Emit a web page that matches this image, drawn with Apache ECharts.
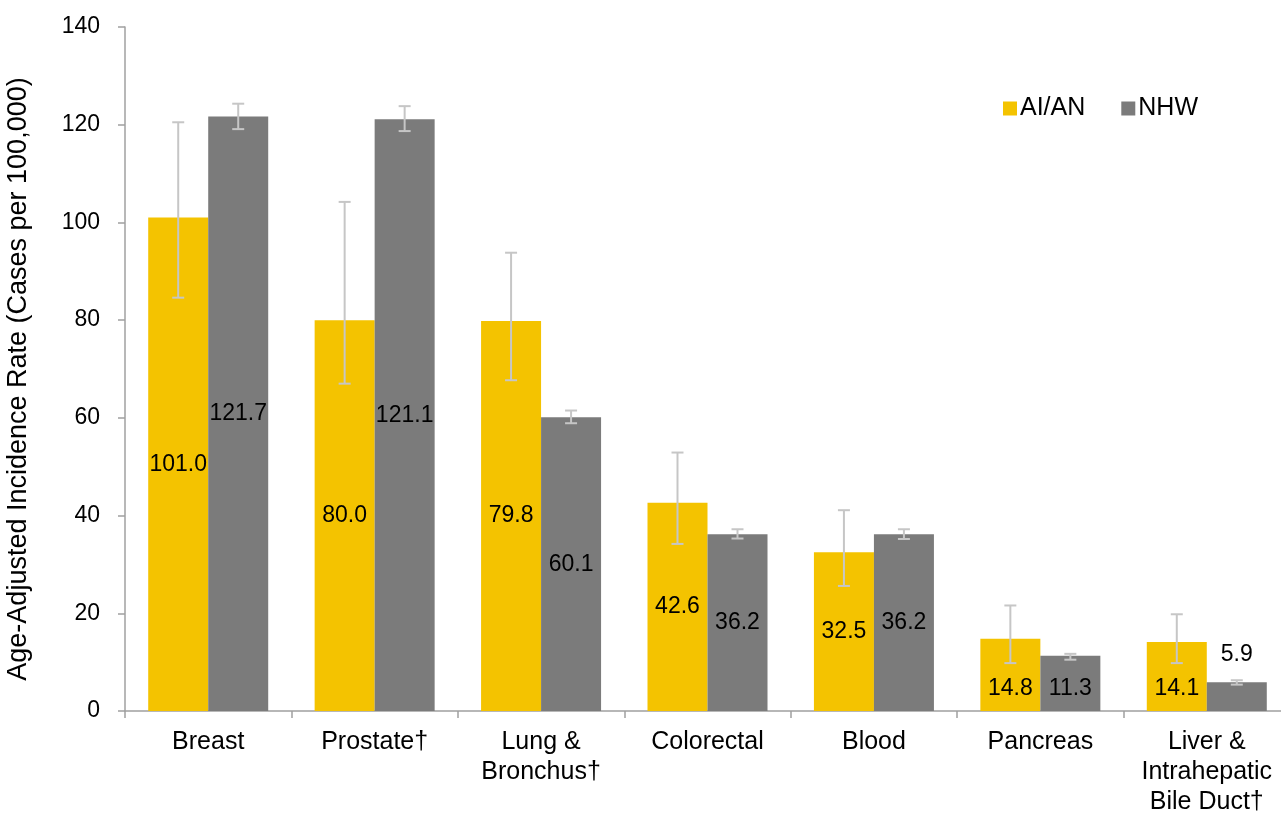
<!DOCTYPE html>
<html>
<head>
<meta charset="utf-8">
<script src="https://cdn.jsdelivr.net/npm/echarts@6/dist/echarts.min.js"></script>
<style>
html,body{margin:0;padding:0;background:#fff;}
#chart{width:1281px;height:817px;}
</style>
</head>
<body>
<div id="chart"></div>
<script>
// ---- data ----
const categories = ['Breast', 'Prostate†', 'Lung &\nBronchus†', 'Colorectal', 'Blood', 'Pancreas', 'Liver &\nIntrahepatic\nBile Duct†'];
const seriesNames = ['AI/AN', 'NHW'];
const aianValues = [101.0, 80.0, 79.8, 42.6, 32.5, 14.8, 14.1];
const nhwValues = [121.7, 121.1, 60.1, 36.2, 36.2, 11.3, 5.9];
const aianLow  = [84.6, 67.0, 67.7, 34.2, 25.6, 9.8, 9.8];
const aianHigh = [120.5, 104.2, 93.8, 52.9, 41.1, 21.6, 19.8];
const nhwLow   = [119.1, 118.7, 58.9, 35.3, 35.2, 10.5, 5.4];
const nhwHigh  = [124.3, 123.8, 61.5, 37.2, 37.2, 11.7, 6.3];
const yTicks = [0, 20, 40, 60, 80, 100, 120, 140];

// ---- styles ----
const colors = ['#F4C300', '#7B7B7B'];
const errColor = '#C6C6C6';
const FONT = 'Liberation Sans, Arial, sans-serif';
const barW = 60;
// label placement per point (style only)
const aianLabelPos = ['inside','inside','inside','inside','inside','insideBottom','insideBottom'];
const nhwLabelPos  = ['inside','inside','inside','inside','inside','insideBottom','top'];

function barData(values, positions) {
  return values.map((v, i) => {
    const item = { value: v };
    if (positions[i] === 'insideBottom') item.label = { position: 'insideBottom', distance: 11 };
    else if (positions[i] === 'top') item.label = { position: 'top', distance: 16 };
    return item;
  });
}
function errData(low, high) {
  return low.map((l, i) => [i, l, high[i]]);
}
function errRender(offset) {
  return function (params, api) {
    const i = api.value(0);
    const pLow = api.coord([i, api.value(1)]);
    const pHigh = api.coord([i, api.value(2)]);
    const x = pLow[0] + offset;
    const cap = 6;
    const style = { stroke: errColor, lineWidth: 2 };
    return {
      type: 'group',
      children: [
        { type: 'line', shape: { x1: x, y1: pLow[1], x2: x, y2: pHigh[1] }, style },
        { type: 'line', shape: { x1: x - cap, y1: pLow[1], x2: x + cap, y2: pLow[1] }, style },
        { type: 'line', shape: { x1: x - cap, y1: pHigh[1], x2: x + cap, y2: pHigh[1] }, style }
      ]
    };
  };
}

const chart = echarts.init(document.getElementById('chart'));
const labelCommon = {
  show: true, position: 'inside', color: '#000', fontSize: 23, fontFamily: FONT,
  formatter: p => Number(p.value).toFixed(1)
};
chart.setOption({
  animation: false,
  backgroundColor: '#fff',
  textStyle: { fontFamily: FONT },
  grid: { left: 125, right: -9, top: 27, bottom: 106, containLabel: false, outerBoundsMode: 'none' },
  legend: {
    data: seriesNames,
    left: 998, top: 91,
    icon: 'rect', itemWidth: 14, itemHeight: 14, itemGap: 36,
    textStyle: { fontSize: 25, color: '#000', fontFamily: FONT, padding: [0, 0, 0, -2] }
  },
  xAxis: {
    type: 'category',
    data: categories,
    axisLine: { lineStyle: { color: '#A0A0A0', width: 1.5 } },
    axisTick: { show: true, length: 7, lineStyle: { color: '#A0A0A0', width: 1.5 } },
    axisLabel: { color: '#000', fontSize: 25, fontFamily: FONT, lineHeight: 30, margin: 16, interval: 0, align: 'center' }
  },
  yAxis: {
    type: 'value',
    min: yTicks[0], max: yTicks[yTicks.length - 1], interval: 20,
    name: 'Age-Adjusted Incidence Rate (Cases per 100,000)',
    nameLocation: 'middle', nameGap: 93, nameRotate: 90,
    nameTextStyle: { color: '#000', fontSize: 27, fontFamily: FONT, padding: [0, 20, 0, 0] },
    axisLine: { show: true, lineStyle: { color: '#A0A0A0', width: 1.5 } },
    axisTick: { show: true, length: 7, lineStyle: { color: '#A0A0A0', width: 1.5 } },
    axisLabel: { color: '#000', fontSize: 23, fontFamily: FONT, margin: 25 },
    splitLine: { show: false }
  },
  series: [
    { name: seriesNames[0], type: 'bar', barWidth: barW, barGap: '0%', itemStyle: { color: colors[0] },
      label: labelCommon, data: barData(aianValues, aianLabelPos), z: 2 },
    { name: seriesNames[1], type: 'bar', barWidth: barW, barGap: '0%', itemStyle: { color: colors[1] },
      label: labelCommon, data: barData(nhwValues, nhwLabelPos), z: 2 },
    { type: 'custom', name: 'errA', renderItem: errRender(-barW / 2), data: errData(aianLow, aianHigh),
      encode: { x: 0, y: [1, 2] }, z: 5, silent: true },
    { type: 'custom', name: 'errN', renderItem: errRender(barW / 2), data: errData(nhwLow, nhwHigh),
      encode: { x: 0, y: [1, 2] }, z: 5, silent: true }
  ]
});
</script>
</body>
</html>
